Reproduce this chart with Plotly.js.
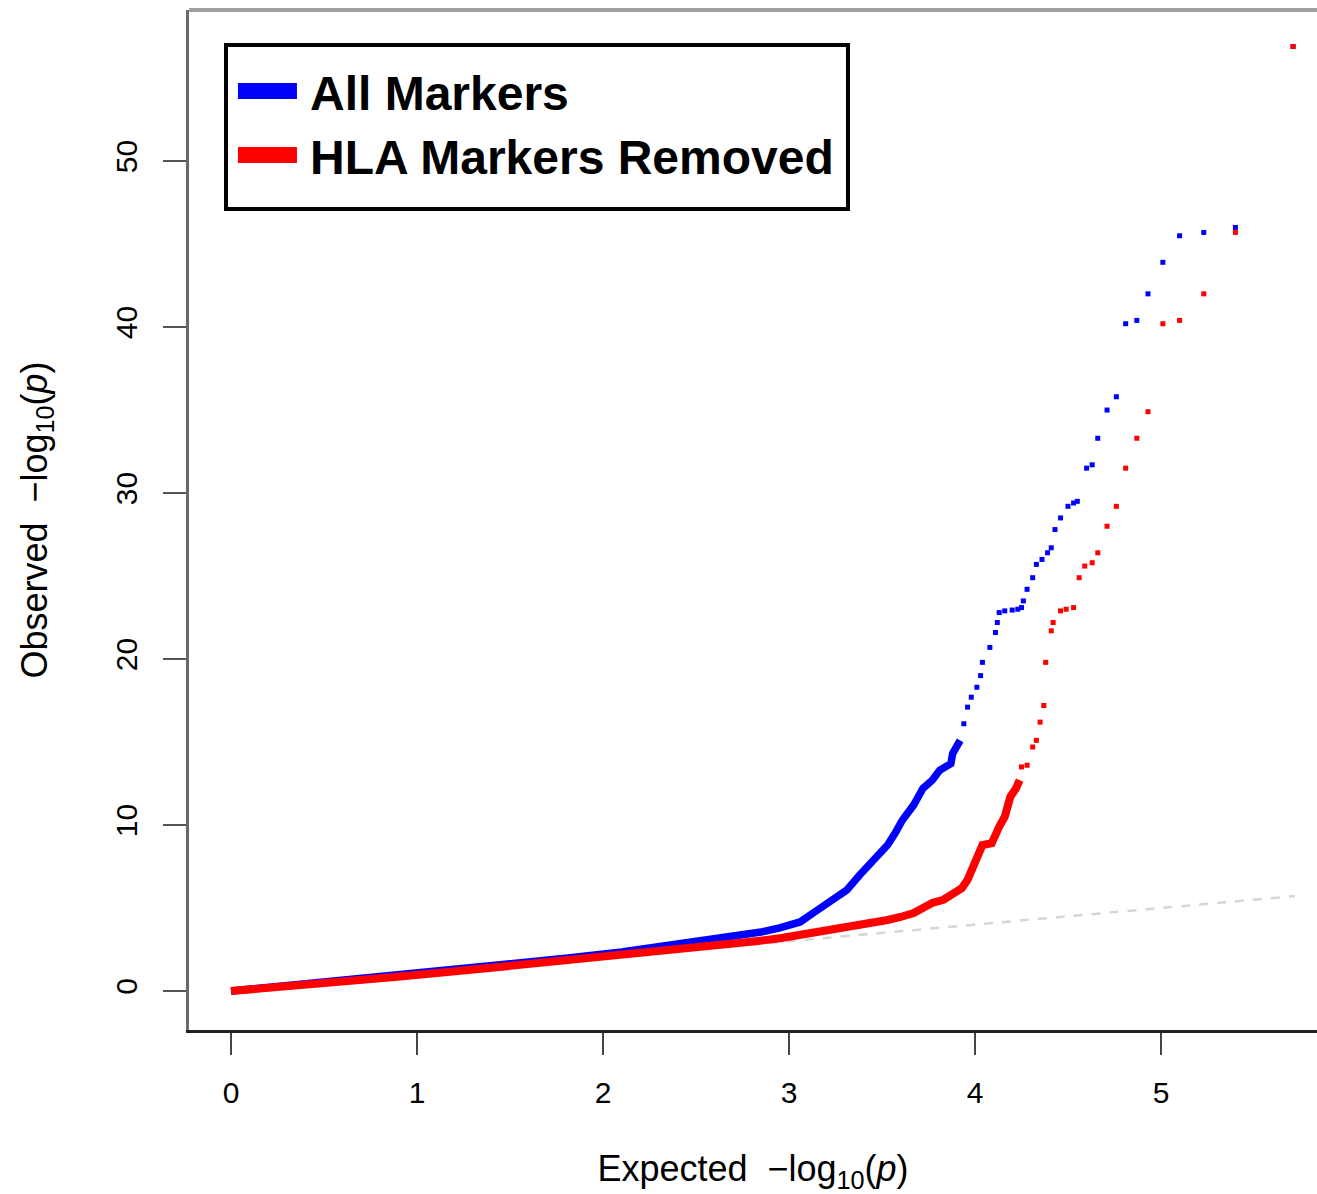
<!DOCTYPE html>
<html>
<head>
<meta charset="utf-8">
<script src="https://cdn.plot.ly/plotly-3.0.1.min.js"></script>
<style>html,body{margin:0;padding:0;background:#fff;}</style>
</head>
<body>
<div id="chart" style="width:1317px;height:1194px;"></div>
<script>
// ---------- data ----------
const seriesNames = ['All Markers', 'HLA Markers Removed'];

// All markers: dense body of the QQ curve (expected, observed)
const allBodyX = [0, 0.5, 1.0, 1.5, 1.8, 2.1, 2.4, 2.62, 2.85, 2.95, 3.06, 3.13, 3.22, 3.31, 3.38, 3.45, 3.53, 3.57, 3.61, 3.67, 3.72, 3.77, 3.81, 3.87, 3.88, 3.92];
const allBodyY = [0, 0.52, 1.05, 1.62, 1.97, 2.35, 2.8, 3.15, 3.55, 3.8, 4.16, 4.7, 5.36, 6.08, 6.99, 7.89, 8.8, 9.5, 10.3, 11.2, 12.2, 12.7, 13.3, 13.7, 14.3, 15.1];
// All markers: sparse upper tail
const allTailX = [3.94, 3.96, 3.98, 4.01, 4.03, 4.04, 4.08, 4.11, 4.12, 4.13, 4.16, 4.20, 4.23, 4.25, 4.26, 4.28, 4.31, 4.33, 4.36, 4.39, 4.41, 4.43, 4.46, 4.50, 4.53, 4.55, 4.60, 4.63, 4.66, 4.71, 4.76, 4.81, 4.87, 4.93, 5.01, 5.10, 5.23, 5.40, 5.71];
const allTailY = [16.1, 17.1, 17.7, 18.3, 19.0, 19.8, 20.7, 21.6, 22.2, 22.8, 22.9, 22.95, 23.0, 23.1, 23.5, 24.2, 24.9, 25.7, 26.0, 26.4, 26.7, 27.8, 28.5, 29.2, 29.4, 29.5, 31.5, 31.7, 33.3, 35.0, 35.8, 40.2, 40.4, 42.0, 43.9, 45.5, 45.7, 46.0, 56.9];

// HLA markers removed: dense body
const hlaBodyX = [0, 0.22, 0.55, 0.88, 1.22, 1.56, 1.89, 2.21, 2.53, 2.82, 2.96, 3.06, 3.17, 3.27, 3.37, 3.45, 3.53, 3.60, 3.67, 3.72, 3.77, 3.83, 3.88, 3.93, 3.96, 3.98, 4.01, 4.02, 4.04, 4.09, 4.11, 4.13, 4.16, 4.17, 4.19, 4.22, 4.24];
const hlaBodyY = [0, 0.18, 0.54, 0.84, 1.2, 1.57, 1.87, 2.29, 2.65, 3.0, 3.19, 3.37, 3.55, 3.8, 3.92, 4.1, 4.28, 4.46, 4.7, 5.0, 5.3, 5.5, 5.8, 6.2, 6.7, 7.3, 7.9, 8.5, 8.8, 8.9, 9.5, 9.9, 10.5, 11.1, 11.7, 12.2, 12.7];
// HLA markers removed: sparse upper tail
const hlaTailX = [4.25, 4.28, 4.31, 4.33, 4.35, 4.37, 4.38, 4.41, 4.42, 4.46, 4.49, 4.53, 4.56, 4.59, 4.63, 4.66, 4.71, 4.76, 4.81, 4.87, 4.93, 5.01, 5.10, 5.23, 5.40, 5.71];
const hlaTailY = [13.5, 13.6, 14.7, 15.1, 16.2, 17.2, 19.8, 21.7, 22.2, 22.9, 23.0, 23.1, 24.9, 25.6, 25.8, 26.4, 28.0, 29.2, 31.5, 33.3, 34.9, 40.2, 40.4, 42.0, 45.7, 56.9];

// null expectation line y = x
const nullLineX = [0, 5.72];
const nullLineY = [0, 5.72];

const xTickVals = [0, 1, 2, 3, 4, 5];
const yTickVals = [0, 10, 20, 30, 40, 50];

// ---------- styling ----------
const BLUE = '#0000ff', RED = '#ff0000';
const seriesColors = [BLUE, RED];
const tickFont = {family: '"Liberation Sans Narrow", "Liberation Sans", Arial, sans-serif', size: 30, color: '#000'};
const titleFont = {family: '"Liberation Sans", Arial, sans-serif', size: 36, color: '#000'};
const legendFont = {family: '"Liberation Sans", Arial, sans-serif', size: 48, color: '#000', weight: 'bold'};

const traces = [
  {x: nullLineX, y: nullLineY, type: 'scatter', mode: 'lines',
   line: {color: '#d6d6d6', width: 2.5, dash: '9px,9px'}, showlegend: false, hoverinfo: 'skip'},
  {x: allBodyX, y: allBodyY, type: 'scatter', mode: 'lines', name: seriesNames[0],
   line: {color: BLUE, width: 7.5}, showlegend: false},
  {x: allTailX, y: allTailY, type: 'scatter', mode: 'markers', name: seriesNames[0],
   marker: {color: BLUE, size: 5, symbol: 'square'}, showlegend: false},
  {x: hlaBodyX, y: hlaBodyY, type: 'scatter', mode: 'lines', name: seriesNames[1],
   line: {color: RED, width: 8}, showlegend: false},
  {x: hlaTailX, y: hlaTailY, type: 'scatter', mode: 'markers', name: seriesNames[1],
   marker: {color: RED, size: 5, symbol: 'square'}, showlegend: false}
];

// legend box (paper coordinates of the plot area)
const legendBox = {x0: 0.0328, x1: 0.5842, y0: 0.8049, y1: 0.9657};
const legendRows = [
  {keyY0: 0.9127, keyY1: 0.9284, textY: 0.9186},
  {keyY0: 0.8500, keyY1: 0.8657, textY: 0.8558}
];
const keyX0 = 0.0434, keyX1 = 0.0957, textX = 0.1055;

const shapes = [
  {type: 'line', xref: 'paper', yref: 'paper', x0: 0, x1: 1, y0: 1, y1: 1,
   line: {color: '#a0a0a0', width: 4}, layer: 'above'},
  {type: 'rect', xref: 'paper', yref: 'paper', x0: legendBox.x0, x1: legendBox.x1, y0: legendBox.y0, y1: legendBox.y1,
   line: {color: '#000', width: 4}, fillcolor: '#fff', layer: 'above'}
];
const annotations = [];
seriesNames.forEach((nm, i) => {
  const r = legendRows[i];
  shapes.push({type: 'rect', xref: 'paper', yref: 'paper', x0: keyX0, x1: keyX1, y0: r.keyY0, y1: r.keyY1,
    line: {width: 0}, fillcolor: seriesColors[i], layer: 'above'});
  annotations.push({xref: 'paper', yref: 'paper', x: textX, y: r.textY, xanchor: 'left', yanchor: 'middle',
    text: nm, showarrow: false, font: legendFont});
});

const layout = {
  width: 1317, height: 1194,
  margin: {l: 189, r: 0, t: 10, b: 164, pad: 0},
  paper_bgcolor: '#fff', plot_bgcolor: '#fff',
  showlegend: false,
  xaxis: {
    range: [-0.2258, 5.8387], autorange: false,
    tickvals: xTickVals, ticktext: xTickVals.map(String),
    ticks: 'outside', ticklen: 22, tickwidth: 2.5, tickcolor: '#444',
    showline: true, linecolor: '#222', linewidth: 3,
    showgrid: false, zeroline: false,
    tickfont: tickFont, ticklabelstandoff: 12,
    title: {text: 'Expected  \u2212log<sub>10</sub>(<i>p</i>)', font: titleFont, standoff: 50}
  },
  yaxis: {
    range: [-2.349, 59.10], autorange: false,
    tickvals: yTickVals, ticktext: yTickVals.map(String),
    ticks: 'outside', ticklen: 23, tickwidth: 2.5, tickcolor: '#555',
    tickangle: -90,
    showline: true, linecolor: '#6a6a6a', linewidth: 3,
    showgrid: false, zeroline: false,
    tickfont: tickFont, ticklabelstandoff: 14,
    title: {text: 'Observed  \u2212log<sub>10</sub>(<i>p</i>)', font: titleFont, standoff: 52}
  },
  shapes: shapes,
  annotations: annotations
};

Plotly.newPlot('chart', traces, layout, {displayModeBar: false, staticPlot: true});
</script>
</body>
</html>
